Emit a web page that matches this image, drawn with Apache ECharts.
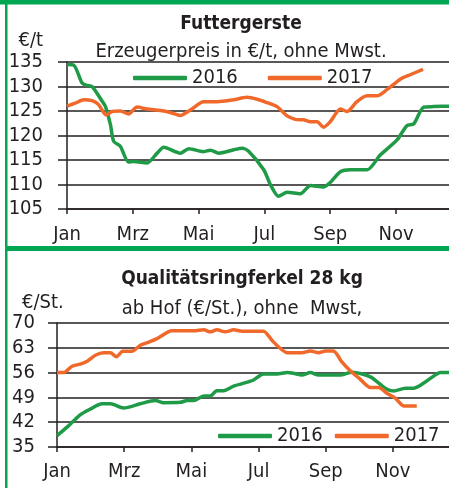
<!DOCTYPE html>
<html><head><meta charset="utf-8">
<script src="https://cdn.jsdelivr.net/npm/echarts@6/dist/echarts.min.js"></script>
<style>html,body{margin:0;padding:0;background:#fff;}#c{width:449px;height:488px;}</style>
</head><body><div id="c"></div>
<script>
// ---- data (x = months since 1 Jan, y = price) ----
const monthLabels = ['Jan', 'Mrz', 'Mai', 'Jul', 'Sep', 'Nov'];
const seriesNames = ['2016', '2017'];

const gerste2016 = [[0,134.5],[0.2,134.4],[0.46,130.7],[0.61,130.2],[0.76,130],[1.01,127.6],[1.17,125.9],[1.32,122.2],[1.42,118.8],[1.62,117.8],[1.87,114.6],[2.03,114.7],[2.43,114.4],[2.74,116.4],[2.94,117.6],[3.44,116.4],[3.7,117.3],[4.15,116.7],[4.36,117],[4.61,116.4],[5.07,117.1],[5.32,117.4],[5.52,116.8],[5.98,113],[6.18,110],[6.43,107.6],[6.69,108.4],[7.09,108.1],[7.4,109.8],[7.8,109.5],[8.0,110.4],[8.31,112.6],[8.61,113],[9.12,113],[9.52,116],[10.03,119.1],[10.33,122],[10.54,122.4],[10.84,125.8],[11.14,125.9],[11.7,126]];
const gerste2017 = [[0,126],[0.25,126.6],[0.51,127.3],[0.76,127.1],[0.96,126.3],[1.19,124.2],[1.37,124.9],[1.62,125],[1.87,124.4],[2.13,125.8],[2.43,125.4],[2.84,125.1],[3.14,124.7],[3.44,124.1],[3.75,125.2],[4.15,126.9],[4.56,126.9],[5.07,127.3],[5.47,127.8],[5.78,127.4],[6.08,126.7],[6.38,125.9],[6.69,124],[6.94,123.3],[7.19,123.2],[7.4,122.8],[7.6,122.8],[7.8,121.7],[8.0,122.8],[8.31,125.4],[8.51,124.9],[8.81,126.9],[9.12,128.1],[9.42,128.1],[9.73,129.4],[10.13,131.5],[10.43,132.4],[10.82,133.5]];

const ferkel2016 = [[0,38.2],[0.3,40.6],[0.69,44.1],[0.99,45.7],[1.34,47.2],[1.59,47.2],[1.98,46],[2.48,47.2],[2.93,48.1],[3.17,47.5],[3.67,47.6],[3.87,48.1],[4.07,48.1],[4.37,49.4],[4.56,49.4],[4.76,50.9],[4.96,50.9],[5.26,52.2],[5.7,53.4],[5.85,53.9],[6.15,55.6],[6.55,55.6],[6.85,56],[7.04,55.8],[7.29,55.3],[7.54,56],[7.79,55.3],[8.43,55.3],[8.78,56.1],[9.33,54.8],[9.77,51.6],[10.02,50.8],[10.37,51.6],[10.61,51.6],[10.91,53],[11.21,55],[11.41,56],[11.7,56]];
const ferkel2017 = [[0,56],[0.2,56],[0.45,57.8],[0.69,58.4],[0.91,59.3],[1.14,60.9],[1.39,61.6],[1.59,61.6],[1.77,60.5],[1.96,62],[2.23,62],[2.48,63.7],[2.73,64.6],[2.98,65.6],[3.42,67.8],[3.77,67.8],[4.07,67.8],[4.37,68.1],[4.56,67.5],[4.76,68.1],[5.01,67.5],[5.26,68.1],[5.51,67.7],[5.85,67.7],[6.15,67.7],[6.4,65.1],[6.65,62.8],[6.85,61.6],[7.29,61.6],[7.54,62.1],[7.79,61.6],[7.99,62.1],[8.23,62.1],[8.48,59],[8.73,56.5],[9.03,54.1],[9.33,51.8],[9.57,51.8],[9.82,50.2],[10.07,48.8],[10.32,46.6],[10.71,46.6]];

const FONT = "'DejaVu Sans Condensed', 'Liberation Sans Narrow', sans-serif";
const TXT = '#231f20';
const GREEN = '#1f9a47';
const ORANGE = '#f0692a';
const BORDER = '#00a651';

function xAxisCfg(gridIndex, max, margin) {
  return {
    type: 'value', gridIndex, min: 0, max, interval: 2,
    axisLine: { show: true, lineStyle: { color: TXT, width: 1.5 } },
    axisTick: { show: true, length: 5, lineStyle: { color: TXT, width: 1.5 } },
    axisLabel: { color: TXT, fontFamily: FONT, fontSize: 20, margin,
      showMaxLabel: false,
      formatter: v => monthLabels[Math.round(v / 2)] || '' },
    splitLine: { show: false }
  };
}
function yAxisCfg(gridIndex, min, max, interval, margin) {
  return {
    type: 'value', gridIndex, min, max, interval,
    axisLine: { show: true, lineStyle: { color: TXT, width: 1.5 } },
    axisTick: { show: true, length: 9, lineStyle: { color: TXT, width: 1.5 } },
    axisLabel: { color: TXT, fontFamily: FONT, fontSize: 20, margin },
    splitLine: { show: true, lineStyle: { color: TXT, width: 1.5 } }
  };
}
function lineSeries(name, data, color, idx) {
  return { type: 'line', name, data, xAxisIndex: idx, yAxisIndex: idx,
    symbol: 'none', smooth: 0.25, lineStyle: { color, width: 3.5 }, itemStyle: { color } };
}

const chart = echarts.init(document.getElementById('c'));
chart.setOption({
  animation: false,
  backgroundColor: '#fff',
  title: [
    { text: 'Futtergerste', left: 236, top: 10, textAlign: 'center',
      textStyle: { fontFamily: FONT, fontSize: 19, fontWeight: 'bold', color: TXT } },
    { text: 'Erzeugerpreis in €/t, ohne Mwst.', left: 236, top: 37, textAlign: 'center',
      textStyle: { fontFamily: FONT, fontSize: 20, fontWeight: 'normal', color: TXT } },
    { text: 'Qualitätsringferkel 28 kg', left: 237, top: 265, textAlign: 'center',
      textStyle: { fontFamily: FONT, fontSize: 19, fontWeight: 'bold', color: TXT } },
    { text: 'ab Hof (€/St.), ohne  Mwst,', left: 237, top: 294, textAlign: 'center',
      textStyle: { fontFamily: FONT, fontSize: 20, fontWeight: 'normal', color: TXT } }
  ],
  legend: [
    { data: seriesNames, left: 133, top: 68, padding: 0, icon: 'roundRect', itemWidth: 54, itemHeight: 4.5,
      itemGap: 30, textStyle: { fontFamily: FONT, fontSize: 20, color: TXT } },
    { data: seriesNames, left: 218, top: 426, padding: 0, icon: 'roundRect', itemWidth: 54, itemHeight: 4.5,
      itemGap: 12, textStyle: { fontFamily: FONT, fontSize: 20, color: TXT } }
  ],
  grid: [
    { left: 67, top: 62, right: 0, height: 147 },
    { left: 57, top: 323, right: 0, height: 124 }
  ],
  xAxis: [ xAxisCfg(0, 11.61, 16), xAxisCfg(1, 11.67, 15) ],
  yAxis: [ yAxisCfg(0, 105, 135, 5, 24), yAxisCfg(1, 35, 70, 7, 22) ],
  series: [
    lineSeries('2016', gerste2016, GREEN, 0),
    lineSeries('2017', gerste2017, ORANGE, 0),
    lineSeries('2016', ferkel2016, GREEN, 1),
    lineSeries('2017', ferkel2017, ORANGE, 1)
  ],
  graphic: [
    { type: 'rect', shape: { x: 0, y: 0, width: 449, height: 4.5 }, style: { fill: BORDER } },
    { type: 'rect', shape: { x: 5, y: 0, width: 2.5, height: 488 }, style: { fill: BORDER } },
    { type: 'rect', shape: { x: 5, y: 246, width: 444, height: 5 }, style: { fill: BORDER } },
    { type: 'text', right: 406, top: 31, style: { text: '€/t', fontFamily: FONT, fontSize: 20, fill: TXT } },
    { type: 'text', left: 22, top: 293, style: { text: '€/St.', fontFamily: FONT, fontSize: 20, fill: TXT } }
  ]
});
</script></body></html>
